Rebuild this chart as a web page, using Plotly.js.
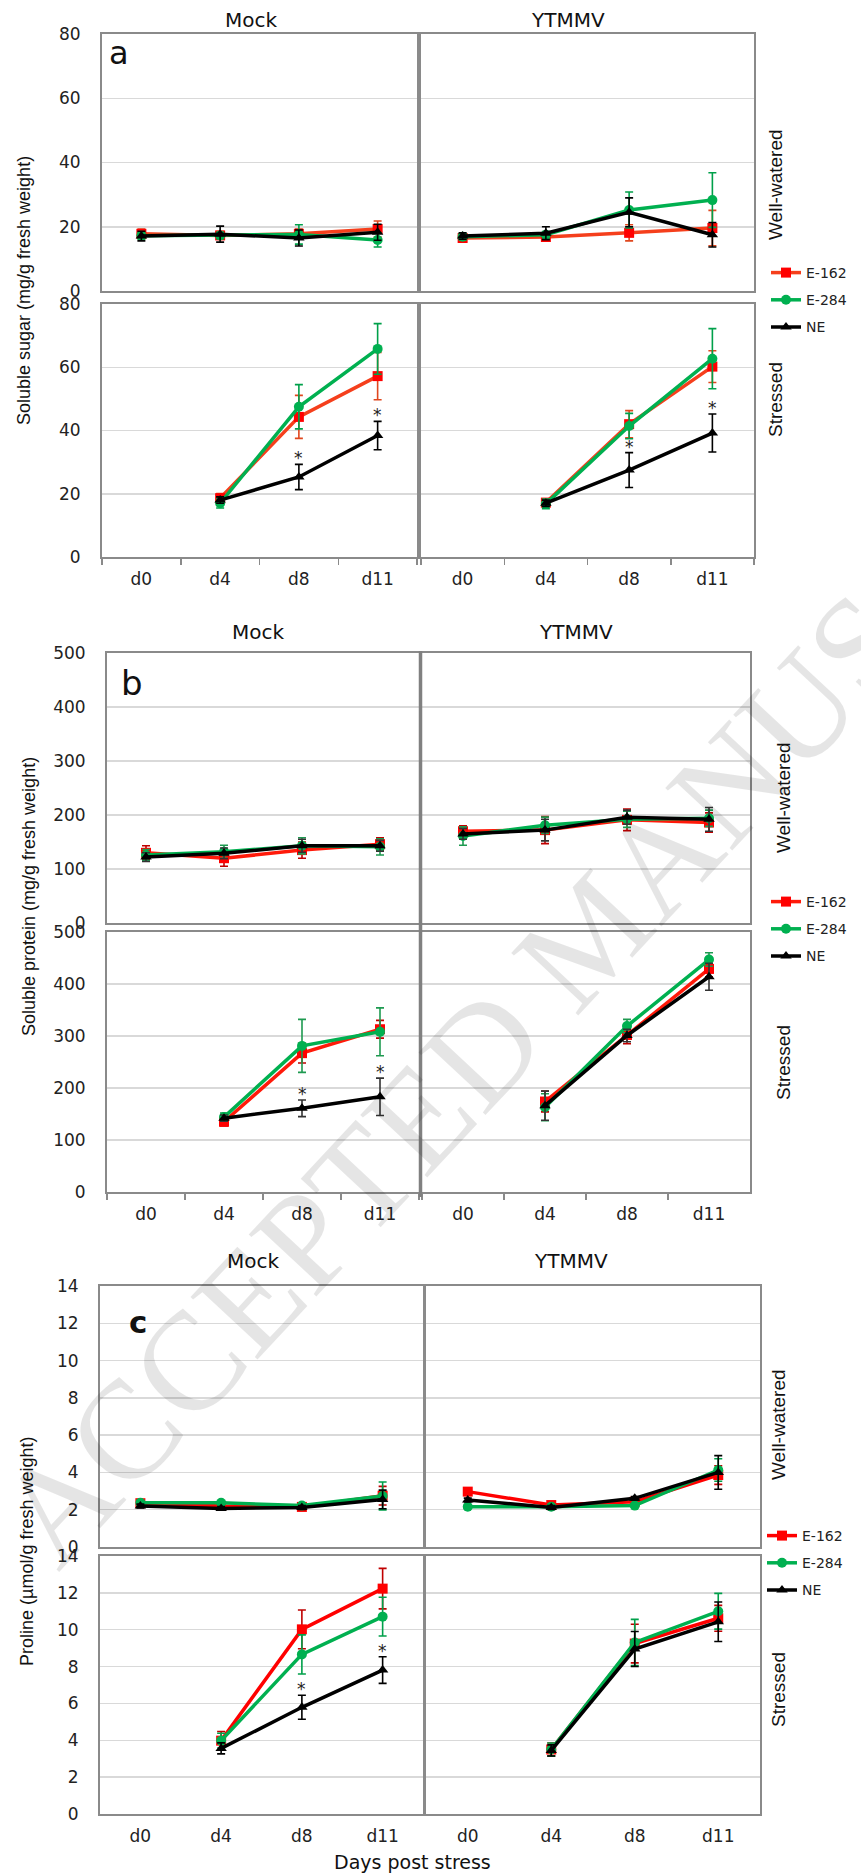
<!DOCTYPE html>
<html>
<head>
<meta charset="utf-8">
<script src="https://cdn.plot.ly/plotly-3.0.1.min.js"></script>
<style>html,body{margin:0;padding:0;background:#fff;}#chart{width:861px;height:1874px;}</style>
</head>
<body>
<div id="chart"></div>
<script>
// ---------- DATA ----------
const days = ['d0', 'd4', 'd8', 'd11'];
const seriesNames = ['E-162', 'E-284', 'NE'];

// (a) Soluble sugar (mg/g fresh weight)
const sugar_mock_ww_E162 = [17.8, 17.3, 17.8, 19.3];   const sugar_mock_ww_E162_err = [1.5, 1.2, 1.5, 2.5];
const sugar_mock_ww_E284 = [17.2, 17.3, 17.6, 15.9];   const sugar_mock_ww_E284_err = [1.0, 1.0, 3.0, 2.2];
const sugar_mock_ww_NE   = [17.1, 17.7, 16.5, 18.3];   const sugar_mock_ww_NE_err   = [1.5, 2.5, 2.5, 2.5];
const sugar_ytmmv_ww_E162 = [16.5, 16.8, 18.1, 19.6];  const sugar_ytmmv_ww_E162_err = [1.0, 1.0, 2.5, 5.5];
const sugar_ytmmv_ww_E284 = [16.9, 17.5, 25.2, 28.3];  const sugar_ytmmv_ww_E284_err = [1.0, 1.0, 5.6, 8.5];
const sugar_ytmmv_ww_NE   = [17.1, 18.0, 24.5, 17.5];  const sugar_ytmmv_ww_NE_err   = [1.0, 2.0, 4.5, 3.8];
const sugar_mock_st_E162 = [null, 18.6, 44.3, 57.2];   const sugar_mock_st_E162_err = [null, 1.5, 6.8, 7.5];
const sugar_mock_st_E284 = [null, 17.0, 47.5, 65.8];   const sugar_mock_st_E284_err = [null, 1.5, 7.0, 8.0];
const sugar_mock_st_NE   = [null, 18.0, 25.3, 38.4];   const sugar_mock_st_NE_err   = [null, 1.0, 4.0, 4.5];
const sugar_ytmmv_st_E162 = [null, 17.2, 42.0, 60.2];  const sugar_ytmmv_st_E162_err = [null, 1.0, 4.3, 5.0];
const sugar_ytmmv_st_E284 = [null, 16.8, 41.4, 62.7];  const sugar_ytmmv_st_E284_err = [null, 1.5, 4.0, 9.5];
const sugar_ytmmv_st_NE   = [null, 17.0, 27.5, 39.2];  const sugar_ytmmv_st_NE_err   = [null, 1.0, 5.5, 6.0];

// (b) Soluble protein (mg/g fresh weight)
const prot_mock_ww_E162 = [130, 120, 135, 146];  const prot_mock_ww_E162_err = [13, 15, 15, 12];
const prot_mock_ww_E284 = [126, 132, 143, 141];  const prot_mock_ww_E284_err = [10, 12, 15, 15];
const prot_mock_ww_NE   = [122, 129, 143, 143];  const prot_mock_ww_NE_err   = [8, 10, 12, 10];
const prot_ytmmv_ww_E162 = [170, 172, 191, 186]; const prot_ytmmv_ww_E162_err = [10, 25, 20, 18];
const prot_ytmmv_ww_E284 = [161, 181, 192, 194]; const prot_ytmmv_ww_E284_err = [17, 15, 15, 15];
const prot_ytmmv_ww_NE   = [165, 172, 196, 192]; const prot_ytmmv_ww_NE_err   = [10, 20, 13, 22];
const prot_mock_st_E162 = [null, 135, 267, 313]; const prot_mock_st_E162_err = [null, 8, 19, 17];
const prot_mock_st_E284 = [null, 144, 281, 308]; const prot_mock_st_E284_err = [null, 8, 51, 46];
const prot_mock_st_NE   = [null, 142, 161, 183]; const prot_mock_st_NE_err   = [null, 6, 16, 36];
const prot_ytmmv_st_E162 = [null, 174, 302, 429]; const prot_ytmmv_st_E162_err = [null, 20, 17, 15];
const prot_ytmmv_st_E284 = [null, 163, 319, 447]; const prot_ytmmv_st_E284_err = [null, 26, 13, 13];
const prot_ytmmv_st_NE   = [null, 166, 301, 414]; const prot_ytmmv_st_NE_err   = [null, 28, 12, 26];

// (c) Proline (µmol/g fresh weight)
const pro_mock_ww_E162 = [2.35, 2.20, 2.15, 2.75]; const pro_mock_ww_E162_err = [0.15, 0.1, 0.1, 0.5];
const pro_mock_ww_E284 = [2.37, 2.37, 2.22, 2.74]; const pro_mock_ww_E284_err = [0.1, 0.1, 0.1, 0.75];
const pro_mock_ww_NE   = [2.20, 2.07, 2.12, 2.55]; const pro_mock_ww_NE_err   = [0.1, 0.1, 0.1, 0.5];
const pro_ytmmv_ww_E162 = [2.97, 2.25, 2.43, 3.86]; const pro_ytmmv_ww_E162_err = [0.1, 0.1, 0.1, 0.5];
const pro_ytmmv_ww_E284 = [2.16, 2.16, 2.22, 4.13]; const pro_ytmmv_ww_E284_err = [0.1, 0.1, 0.1, 0.6];
const pro_ytmmv_ww_NE   = [2.52, 2.12, 2.61, 4.00]; const pro_ytmmv_ww_NE_err   = [0.1, 0.1, 0.1, 0.9];
const pro_mock_st_E162 = [null, 3.98, 10.02, 12.23]; const pro_mock_st_E162_err = [null, 0.5, 1.05, 1.1];
const pro_mock_st_E284 = [null, 3.98, 8.66, 10.71];  const pro_mock_st_E284_err = [null, 0.4, 1.06, 1.05];
const pro_mock_st_NE   = [null, 3.56, 5.79, 7.81];   const pro_mock_st_NE_err   = [null, 0.3, 0.65, 0.72];
const pro_ytmmv_st_E162 = [null, 3.50, 9.25, 10.62]; const pro_ytmmv_st_E162_err = [null, 0.35, 1.05, 0.7];
const pro_ytmmv_st_E284 = [null, 3.50, 9.31, 11.00]; const pro_ytmmv_st_E284_err = [null, 0.35, 1.25, 0.97];
const pro_ytmmv_st_NE   = [null, 3.45, 8.95, 10.43]; const pro_ytmmv_st_NE_err   = [null, 0.3, 0.95, 1.07];

// significance marks (NE vs endophytes): [panel, row, col, day index]
const asterisks = [
  [0, 1, 0, 2], [0, 1, 0, 3], [0, 1, 1, 2], [0, 1, 1, 3],
  [1, 1, 0, 2], [1, 1, 0, 3],
  [2, 1, 0, 2], [2, 1, 0, 3]
];

// ---------- ASSEMBLY ----------
const W = 861, H = 1874;
const panelData = [
  [[[sugar_mock_ww_E162, sugar_mock_ww_E284, sugar_mock_ww_NE], [sugar_ytmmv_ww_E162, sugar_ytmmv_ww_E284, sugar_ytmmv_ww_NE]],
   [[sugar_mock_st_E162, sugar_mock_st_E284, sugar_mock_st_NE], [sugar_ytmmv_st_E162, sugar_ytmmv_st_E284, sugar_ytmmv_st_NE]]],
  [[[prot_mock_ww_E162, prot_mock_ww_E284, prot_mock_ww_NE], [prot_ytmmv_ww_E162, prot_ytmmv_ww_E284, prot_ytmmv_ww_NE]],
   [[prot_mock_st_E162, prot_mock_st_E284, prot_mock_st_NE], [prot_ytmmv_st_E162, prot_ytmmv_st_E284, prot_ytmmv_st_NE]]],
  [[[pro_mock_ww_E162, pro_mock_ww_E284, pro_mock_ww_NE], [pro_ytmmv_ww_E162, pro_ytmmv_ww_E284, pro_ytmmv_ww_NE]],
   [[pro_mock_st_E162, pro_mock_st_E284, pro_mock_st_NE], [pro_ytmmv_st_E162, pro_ytmmv_st_E284, pro_ytmmv_st_NE]]]
];
const panelErr = [
  [[[sugar_mock_ww_E162_err, sugar_mock_ww_E284_err, sugar_mock_ww_NE_err], [sugar_ytmmv_ww_E162_err, sugar_ytmmv_ww_E284_err, sugar_ytmmv_ww_NE_err]],
   [[sugar_mock_st_E162_err, sugar_mock_st_E284_err, sugar_mock_st_NE_err], [sugar_ytmmv_st_E162_err, sugar_ytmmv_st_E284_err, sugar_ytmmv_st_NE_err]]],
  [[[prot_mock_ww_E162_err, prot_mock_ww_E284_err, prot_mock_ww_NE_err], [prot_ytmmv_ww_E162_err, prot_ytmmv_ww_E284_err, prot_ytmmv_ww_NE_err]],
   [[prot_mock_st_E162_err, prot_mock_st_E284_err, prot_mock_st_NE_err], [prot_ytmmv_st_E162_err, prot_ytmmv_st_E284_err, prot_ytmmv_st_NE_err]]],
  [[[pro_mock_ww_E162_err, pro_mock_ww_E284_err, pro_mock_ww_NE_err], [pro_ytmmv_ww_E162_err, pro_ytmmv_ww_E284_err, pro_ytmmv_ww_NE_err]],
   [[pro_mock_st_E162_err, pro_mock_st_E284_err, pro_mock_st_NE_err], [pro_ytmmv_st_E162_err, pro_ytmmv_st_E284_err, pro_ytmmv_st_NE_err]]]
];

// pixel boxes of the subplots
const boxes = [
  {mx: [102, 417], yx: [421, 754], ww: [34, 291], st: [304, 557]},
  {mx: [107, 419], yx: [422, 750], ww: [653, 923], st: [932, 1192]},
  {mx: [100, 423], yx: [426, 760], ww: [1286, 1547], st: [1556, 1814]}
];
const yRanges = [[0, 80], [0, 500], [0, 14]];
const yDticks = [20, 100, 2];

const lineColors = [['#F53F1C', '#00B050', '#000000'], ['#FF1A0A', '#00B050', '#000000'], ['#FF0000', '#00B050', '#000000']];
const markerColors = ['#FF0000', '#00B050', '#000000'];
const errColors = [['#E0471E', '#00A04A', '#000000'], ['#C00000', '#1E9A50', '#333333'], ['#C00000', '#00A04A', '#000000']];
const symbols = ['square', 'circle', 'triangle-up'];
const legendIds = ['legend', 'legend2', 'legend3'];

const tickFont = {family: 'DejaVu Sans, sans-serif', size: 17, color: '#222'};
const traces = [];
const layout = {
  width: W, height: H, margin: {l: 0, r: 0, t: 0, b: 0},
  paper_bgcolor: '#fff', plot_bgcolor: 'rgba(0,0,0,0)',
  showlegend: true, annotations: [], shapes: []
};

for (let p = 0; p < 3; p++) {
  const b = boxes[p];
  for (let r = 0; r < 2; r++) {
    for (let c = 0; c < 2; c++) {
      const k = p * 4 + r * 2 + c + 1;
      const xa = 'x' + (k > 1 ? k : ''), ya = 'y' + (k > 1 ? k : '');
      const xr = c === 0 ? b.mx : b.yx;
      const yr = r === 0 ? b.ww : b.st;
      layout['xaxis' + (k > 1 ? k : '')] = {
        domain: [xr[0] / W, xr[1] / W], anchor: ya,
        type: 'category', categoryorder: 'array', categoryarray: days, range: [-0.5, 3.5],
        showline: true, mirror: true, linecolor: '#8a8a8a', linewidth: 2,
        showgrid: false, zeroline: false,
        showticklabels: r === 1, ticks: (r === 1 && p < 2) ? 'outside' : '',
        tickson: 'boundaries', ticklen: 6, tickcolor: '#8a8a8a', tickwidth: 1.5,
        ticklabelstandoff: 6, tickfont: tickFont, fixedrange: true
      };
      layout['yaxis' + (k > 1 ? k : '')] = {
        domain: [1 - yr[1] / H, 1 - yr[0] / H], anchor: xa,
        range: yRanges[p], tick0: 0, dtick: yDticks[p],
        showgrid: true, gridcolor: '#D9D9D9', gridwidth: 1.5,
        showline: true, mirror: true, linecolor: '#8a8a8a', linewidth: 2, zeroline: false,
        showticklabels: c === 0, ticks: '', ticklabelstandoff: 16, tickfont: tickFont, fixedrange: true
      };
      for (let s = 0; s < 3; s++) {
        traces.push({
          type: 'scatter', mode: 'lines+markers', name: seriesNames[s],
          x: days, y: panelData[p][r][c][s], xaxis: xa, yaxis: ya,
          line: {color: lineColors[p][s], width: 3.5},
          marker: {color: markerColors[s], symbol: symbols[s], size: 10},
          error_y: {type: 'data', array: panelErr[p][r][c][s], visible: true, color: errColors[p][s], thickness: 1.6, width: 4},
          showlegend: r === 0 && c === 0, legend: legendIds[p], legendgroup: 'g' + p + s,
          hoverinfo: 'skip'
        });
      }
    }
  }
}

// legends (one per panel)
const legendTops = [257, 886, 1520];
const legendX = [766, 766, 762];
for (let p = 0; p < 3; p++) {
  layout[legendIds[p]] = {
    x: legendX[p] / W, y: 1 - legendTops[p] / H, xanchor: 'left', yanchor: 'top',
    bgcolor: 'rgba(0,0,0,0)', borderwidth: 0, tracegroupgap: 6,
    font: {family: 'DejaVu Sans, sans-serif', size: 14, color: '#222'}
  };
}

// separator line in panel b
layout.shapes.push({type: 'line', xref: 'paper', yref: 'paper', x0: 420.5 / W, x1: 420.5 / W,
  y0: 1 - 651 / H, y1: 1 - 1197 / H, line: {color: '#808080', width: 3.5}});

const ann = layout.annotations;
function txt(text, xpx, ypx, size, opts) {
  ann.push(Object.assign({text: text, xref: 'paper', yref: 'paper', x: xpx / W, y: 1 - ypx / H,
    xanchor: 'center', yanchor: 'middle', showarrow: false,
    font: {family: 'DejaVu Sans, sans-serif', size: size, color: '#111'}}, opts || {}));
}
// watermark (drawn first, behind other texts)
txt('ACCEPTED MANUSCRIPT', 590, 934, 140, {textangle: -47,
  font: {family: 'Liberation Serif, Times New Roman, serif', size: 140, color: 'rgba(0,0,0,0.1)'}});

// column titles
const titleY = [20, 632, 1261];
const mockTitleX = [251, 258, 253];
const ytTitleX = [568, 576, 571];
for (let p = 0; p < 3; p++) {
  txt('Mock', mockTitleX[p], titleY[p], 20);
  txt('YTMMV', ytTitleX[p], titleY[p], 20);
}
// row labels
const sideX = [776, 783, 778];
const wwY = [185, 798, 1425], stY = [400, 1063, 1690];
const sideFont = {family: 'Liberation Sans, Arial, sans-serif', size: 19, color: '#111'};
for (let p = 0; p < 3; p++) {
  txt('Well-watered', sideX[p], wwY[p], 19, {textangle: -90, font: sideFont});
  txt('Stressed', sideX[p], stY[p], 19, {textangle: -90, font: sideFont});
}
// y titles
const yTitleFont = {family: 'Liberation Sans, Arial, sans-serif', size: 18, color: '#111'};
txt('Soluble sugar (mg/g fresh weight)', 24, 291, 18, {textangle: -90, font: yTitleFont});
txt('Soluble protein (mg/g fresh weight)', 29, 897, 18, {textangle: -90, font: yTitleFont});
txt('Proline (µmol/g fresh weight)', 27, 1552, 18, {textangle: -90, font: yTitleFont});
// x title
txt('Days post stress', 412, 1862, 19);
// panel letters
txt('a', 119, 53, 32);
txt('b', 132, 683, 34);
txt('c', 138, 1322, 31, {font: {family: 'DejaVu Sans, sans-serif', size: 31, color: '#111', weight: 'bold'}});

// asterisks above NE error bars
asterisks.forEach(function (a) {
  const p = a[0], r = a[1], c = a[2], i = a[3];
  const k = p * 4 + r * 2 + c + 1;
  const v = panelData[p][r][c][2][i] + panelErr[p][r][c][2][i];
  ann.push({text: '*', xref: 'x' + (k > 1 ? k : ''), yref: 'y' + (k > 1 ? k : ''), x: days[i], y: v,
    xanchor: 'center', yanchor: 'middle', yshift: 6, showarrow: false,
    font: {family: 'DejaVu Sans, sans-serif', size: 17, color: '#222'}});
});

Plotly.newPlot('chart', traces, layout, {staticPlot: true, displayModeBar: false});
</script>
</body>
</html>
